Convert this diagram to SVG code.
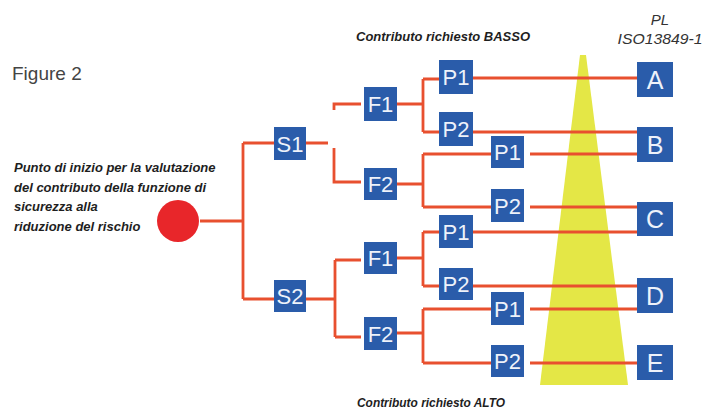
<svg xmlns="http://www.w3.org/2000/svg" width="711" height="410" viewBox="0 0 711 410">
<style>
.box{fill:#2a5caa}
.bl{font-family:"Liberation Sans",Arial,sans-serif;font-size:22px;fill:#eef2fa;text-anchor:middle}
.big{font-size:25px}
.ln{fill:none;stroke:#e8502f;stroke-width:2.8}
.t{font-family:"Liberation Sans",Arial,sans-serif;font-style:italic;font-weight:bold;font-size:13px;fill:#1e1e1e}
.pl{font-family:"Liberation Sans",Arial,sans-serif;font-style:italic;font-size:15px;fill:#333;text-anchor:middle}
</style>
<rect width="711" height="410" fill="#ffffff"/>
<polygon points="580,55 586,55 628,385 540,385" fill="#e4e746"/>
<text x="12" y="80" font-family="Liberation Sans,Arial,sans-serif" font-size="19" fill="#444">Figure 2</text>
<text class="t" x="356" y="41" textLength="174" lengthAdjust="spacingAndGlyphs">Contributo richiesto BASSO</text>
<text class="t" x="357" y="407" textLength="148" lengthAdjust="spacingAndGlyphs">Contributo richiesto ALTO</text>
<text class="pl" x="660" y="25">PL</text>
<text class="pl" x="660" y="44" textLength="85" lengthAdjust="spacingAndGlyphs">ISO13849-1</text>
<g id="start-text">
<text class="t" x="14" y="172">Punto di inizio per la valutazione</text>
<text class="t" x="14" y="192">del contributo della funzione di</text>
<text class="t" x="14" y="211">sicurezza alla</text>
<text class="t" x="14" y="231">riduzione del rischio</text>
</g>
<g id="connectors">
<path class="ln" d="M200 221H243M243 143V299M243 143H274M243 299H274"/>
<path class="ln" d="M306 143H328M334 110V104H361M334 148V182H361"/>
<path class="ln" d="M306 299H335M335 260V337M335 260H361M335 337H361"/>
<path class="ln" d="M397 104H423M423 79V132M423 79H439M423 132H439"/>
<path class="ln" d="M397 184H423M423 154V207M423 154H491M423 207H491"/>
<path class="ln" d="M397 258H423M423 232V286M423 232H439M423 286H439"/>
<path class="ln" d="M397 333H423M423 309V363M423 309H491M423 363H491"/>
<path class="ln" d="M473 78H637M473 132H637M530 154H637M530 207H637M473 232H637M473 286H637M530 309H637M530 363H637"/>
</g>
<g id="start"><circle cx="178" cy="221" r="21" fill="#e8262a"/></g>
<g id="S1"><rect class="box" x="274" y="127" width="32" height="33"/><text class="bl" x="290" y="151.5">S1</text></g>
<g id="S2"><rect class="box" x="274" y="280" width="32" height="32"/><text class="bl" x="290" y="304">S2</text></g>
<g id="F1a"><rect class="box" x="364" y="87" width="33" height="34"/><text class="bl" x="380.5" y="112">F1</text></g>
<g id="F2a"><rect class="box" x="364" y="168" width="33" height="32"/><text class="bl" x="380.5" y="192">F2</text></g>
<g id="P1a"><rect class="box" x="439" y="60" width="34" height="34"/><text class="bl" x="456" y="85">P1</text></g>
<g id="P2a"><rect class="box" x="439" y="112" width="34" height="34"/><text class="bl" x="456" y="137">P2</text></g>
<g id="P1b"><rect class="box" x="491" y="136" width="33" height="32"/><text class="bl" x="507.5" y="160">P1</text></g>
<g id="P2b"><rect class="box" x="491" y="189" width="33" height="33"/><text class="bl" x="507.5" y="213.5">P2</text></g>
<g id="F1b"><rect class="box" x="364" y="242" width="33" height="32"/><text class="bl" x="380.5" y="266">F1</text></g>
<g id="F2b"><rect class="box" x="364" y="317" width="33" height="33"/><text class="bl" x="380.5" y="341.5">F2</text></g>
<g id="P1c"><rect class="box" x="439" y="215" width="34" height="33"/><text class="bl" x="456" y="239.5">P1</text></g>
<g id="P2c"><rect class="box" x="439" y="268" width="34" height="32"/><text class="bl" x="456" y="292">P2</text></g>
<g id="P1d"><rect class="box" x="491" y="292" width="33" height="33"/><text class="bl" x="507.5" y="316.5">P1</text></g>
<g id="P2d"><rect class="box" x="491" y="345" width="33" height="32"/><text class="bl" x="507.5" y="369">P2</text></g>
<g id="A"><rect class="box" x="637" y="62" width="36" height="35"/><text class="bl big" x="655" y="88.5">A</text></g>
<g id="B"><rect class="box" x="637" y="127" width="36" height="35"/><text class="bl big" x="655" y="153.5">B</text></g>
<g id="C"><rect class="box" x="637" y="202" width="36" height="34"/><text class="bl big" x="655" y="228">C</text></g>
<g id="D"><rect class="box" x="637" y="278" width="36" height="35"/><text class="bl big" x="655" y="304.5">D</text></g>
<g id="E"><rect class="box" x="637" y="345" width="36" height="35"/><text class="bl big" x="655" y="371.5">E</text></g>
</svg>
